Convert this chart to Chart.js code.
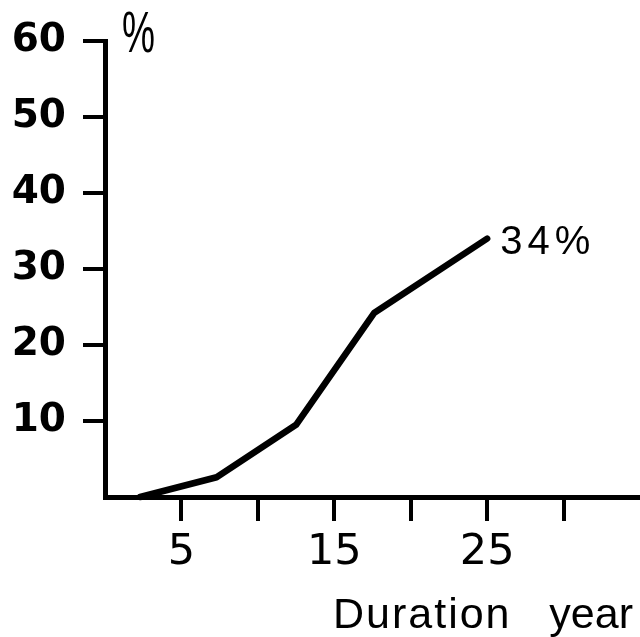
<!DOCTYPE html>
<html>
<head>
<meta charset="utf-8">
<script src="https://cdn.jsdelivr.net/npm/chart.js@4"></script>
<style>
  html, body { margin: 0; padding: 0; background: #fff; }
</style>
</head>
<body>
<canvas id="chart" width="640" height="637"></canvas>
<script>
// prevalence (%) against duration of disease (years)
const durationYears = [2.3, 7.3, 12.5, 17.6, 25];
const prevalencePct = [0, 2.6, 9.5, 24.2, 34];

// which ticks carry a label
const xLabelled = [5, 15, 25];
const yLabelled = [10, 20, 30, 40, 50, 60];

const endLabel = "34%";
const yUnit = "%";
const xTitleWords = ["Duration", "year"];

const textFont = "Liberation Sans";

// tick marks only where the original has them (none at the corner or right edge)
function tickColor(ctx) {
  const v = ctx.tick ? ctx.tick.value : null;
  return v === 0 || v === 35 ? "rgba(0,0,0,0)" : "#000";
}

// draws the % unit, the end label and the x title as plain canvas text
const annotations = {
  id: "annotations",
  afterDraw(chart) {
    const { ctx, chartArea } = chart;
    const xs = chart.scales.x;
    const ys = chart.scales.y;
    ctx.save();
    ctx.fillStyle = "#000";
    ctx.textBaseline = "alphabetic";

    // unit sign next to the top of the y axis, a bit condensed
    ctx.save();
    ctx.translate(chartArea.left + 17, chartArea.top + 11);
    ctx.scale(0.65, 1);
    ctx.font = "57px '" + textFont + "'";
    ctx.textAlign = "left";
    ctx.fillText(yUnit, 0, 0);
    ctx.restore();

    // value at the end of the line
    const lastX = durationYears[durationYears.length - 1];
    const lastY = prevalencePct[prevalencePct.length - 1];
    ctx.font = "40px '" + textFont + "'";
    ctx.letterSpacing = "5px";
    ctx.textAlign = "left";
    ctx.fillText(endLabel, xs.getPixelForValue(lastX) + 13, ys.getPixelForValue(lastY) + 15);

    // axis title, bottom right
    ctx.font = "43px '" + textFont + "'";
    ctx.letterSpacing = "2px";
    ctx.textAlign = "left";
    ctx.fillText(xTitleWords[0], chartArea.left + 228, chartArea.bottom + 131);
    ctx.letterSpacing = "0px";
    ctx.textAlign = "right";
    ctx.fillText(xTitleWords[1], chartArea.right - 7, chartArea.bottom + 131);
    ctx.restore();
  }
};

new Chart(document.getElementById("chart"), {
  type: "scatter",
  data: {
    datasets: [{
      data: durationYears.map((x, i) => ({ x: x, y: prevalencePct[i] })),
      showLine: true,
      borderColor: "#000",
      borderWidth: 6.5,
      borderCapStyle: "round",
      borderJoinStyle: "round",
      pointRadius: 0,
      tension: 0,
      clip: false
    }]
  },
  options: {
    responsive: false,
    animation: false,
    devicePixelRatio: 1,
    layout: { padding: { top: 41, right: 0, bottom: 0, left: 0 } },
    plugins: {
      legend: { display: false },
      tooltip: { enabled: false }
    },
    scales: {
      x: {
        type: "linear",
        min: 0,
        max: 35,
        ticks: {
          stepSize: 5,
          autoSkip: false,
          maxRotation: 0,
          color: "#000",
          font: { family: "DejaVu Sans", size: 43 },
          padding: 6,
          callback: (v) => (xLabelled.includes(v) ? String(v) : "")
        },
        grid: {
          drawOnChartArea: false,
          tickLength: 24,
          lineWidth: 4,
          color: tickColor
        },
        border: { display: true, color: "#000", width: 5 },
        afterFit(scale) {
          scale.height = 140;
          scale.paddingLeft = 0;
          scale.paddingRight = 0;
        }
      },
      y: {
        min: 0,
        max: 60,
        ticks: {
          stepSize: 10,
          color: "#000",
          font: { family: "DejaVu Sans", size: 39, weight: "bold" },
          padding: 17,
          callback: (v) => (yLabelled.includes(v) ? String(v) : "")
        },
        grid: {
          drawOnChartArea: false,
          tickLength: 22,
          lineWidth: 4,
          color: tickColor
        },
        border: { display: true, color: "#000", width: 5 },
        afterFit(scale) {
          scale.width = 105;
          scale.paddingTop = 0;
          scale.paddingBottom = 0;
        }
      }
    }
  },
  plugins: [annotations]
});
</script>
</body>
</html>
